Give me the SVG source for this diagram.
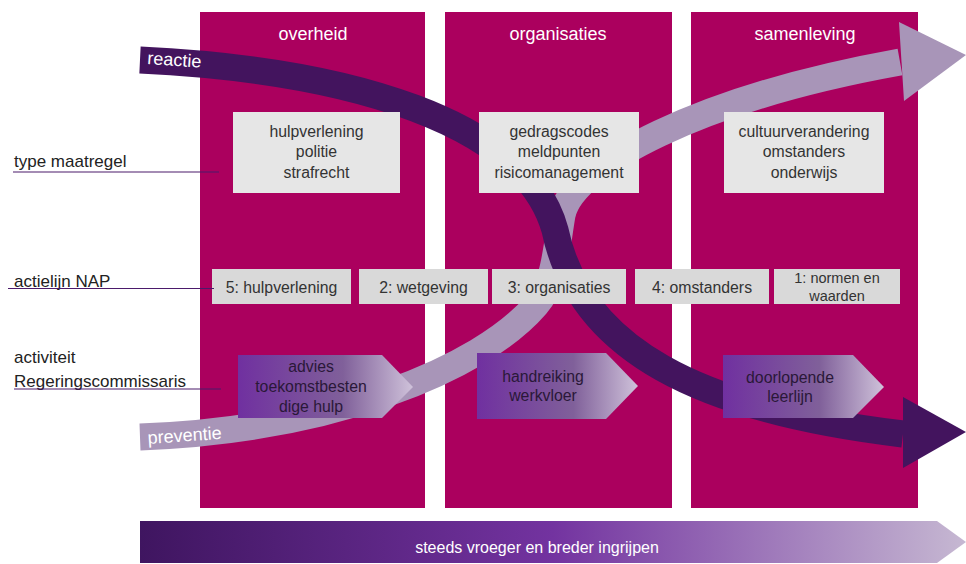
<svg xmlns="http://www.w3.org/2000/svg" width="966" height="564" viewBox="0 0 966 564">
<defs>
<linearGradient id="chev" x1="0" y1="0" x2="1" y2="0">
<stop offset="0" stop-color="#7030A0"/>
<stop offset="0.6" stop-color="#80609A"/>
<stop offset="1" stop-color="#CFC2DA"/>
</linearGradient>
<linearGradient id="bar" x1="0" y1="0" x2="1" y2="0">
<stop offset="0" stop-color="#3F1560"/>
<stop offset="0.5" stop-color="#7333A0"/>
<stop offset="1" stop-color="#C6B8D2"/>
</linearGradient>
<style>
.col{fill:#AB005E}
.hdr{font-family:"Liberation Sans",Arial,sans-serif;font-size:18px;fill:#fff;text-anchor:middle}
.box{fill:#E6E6E6}
.nap{fill:#D9D9D9}
.bt{font-family:"Liberation Sans",Arial,sans-serif;font-size:15.8px;fill:#333;text-anchor:middle}
.ct{font-family:"Liberation Sans",Arial,sans-serif;font-size:15.8px;fill:#2A1838;text-anchor:middle}
.lbl{font-family:"Liberation Sans",Arial,sans-serif;font-size:17px;fill:#222}
.ln{stroke:#4B1A6B;stroke-width:1.2;fill:none}
.band{fill:none;stroke-width:27;stroke-linecap:butt}
.bl{font-family:"Liberation Sans",Arial,sans-serif;font-size:18px;fill:#fff}
</style>
</defs>
<g id="columns">
<rect id="col-overheid" class="col" x="200" y="12" width="225" height="496"/>
<rect id="col-organisaties" class="col" x="445" y="12" width="227" height="496"/>
<rect id="col-samenleving" class="col" x="691" y="12" width="227" height="496"/>
<text class="hdr" x="313" y="40">overheid</text>
<text class="hdr" x="558" y="40">organisaties</text>
<text class="hdr" x="805" y="40">samenleving</text>
</g>
<g id="connectors">
<g id="preventie">
<path class="band" stroke="#A895B8" d="M140,437 C330,430 480,370 536,305 C555,283 556,250 562,215 C572,165 700,98 900,62"/>
<polygon fill="#A895B8" points="899,22 966,55 904,101"/>
<text class="bl" x="148" y="444" transform="rotate(-4 148 444)">preventie</text>
</g>
<g id="reactie">
<path class="band" stroke="#43145E" d="M140,60 C350,70 525,122 555,230 C580,350 700,410 903,434"/>
<polygon fill="#43145E" points="903,397 966,432 903,468"/>
<text class="bl" x="147" y="64" transform="rotate(4 147 64)">reactie</text>
</g>
</g>
<g id="maatregelen">
<g id="m-overheid"><rect class="box" x="233" y="112" width="167" height="81"/>
<text class="bt" x="316.5" y="137">hulpverlening</text><text class="bt" x="316.5" y="157">politie</text><text class="bt" x="316.5" y="178">strafrecht</text></g>
<g id="m-organisaties"><rect class="box" x="479" y="112" width="160" height="81"/>
<text class="bt" x="559" y="137">gedragscodes</text><text class="bt" x="559" y="157">meldpunten</text><text class="bt" x="559" y="178">risicomanagement</text></g>
<g id="m-samenleving"><rect class="box" x="724" y="112" width="160" height="81"/>
<text class="bt" x="804" y="137">cultuurverandering</text><text class="bt" x="804" y="157">omstanders</text><text class="bt" x="804" y="178">onderwijs</text></g>
</g>
<g id="nap">
<g id="nap5"><rect class="nap" x="212" y="269" width="139" height="35"/><text class="bt" x="281.5" y="293">5: hulpverlening</text></g>
<g id="nap2"><rect class="nap" x="359" y="269" width="129" height="35"/><text class="bt" x="423.5" y="293">2: wetgeving</text></g>
<g id="nap3"><rect class="nap" x="492" y="269" width="134" height="35"/><text class="bt" x="559" y="293">3: organisaties</text></g>
<g id="nap4"><rect class="nap" x="635" y="269" width="134" height="35"/><text class="bt" x="702" y="293">4: omstanders</text></g>
<g id="nap1"><rect class="nap" x="774" y="269" width="126" height="35"/><text class="bt" x="837" y="283" style="font-size:14.5px">1: normen en</text><text class="bt" x="837" y="301" style="font-size:14.5px">waarden</text></g>
</g>
<g id="activiteiten">
<g id="a1"><polygon fill="url(#chev)" points="238,355 382,355 413,387 382,418 238,418"/>
<text class="ct" x="311" y="372">advies</text><text class="ct" x="311" y="392">toekomstbesten</text><text class="ct" x="311" y="412">dige hulp</text></g>
<g id="a2"><polygon fill="url(#chev)" points="477,353 606,353 638,386 606,419 477,419"/>
<text class="ct" x="543" y="382">handreiking</text><text class="ct" x="543" y="401">werkvloer</text></g>
<g id="a3"><polygon fill="url(#chev)" points="723,355 853,355 884,387 853,418 723,418"/>
<text class="ct" x="790" y="383">doorlopende</text><text class="ct" x="790" y="402">leerlijn</text></g>
</g>
<g id="labels">
<g id="l-type"><text class="lbl" x="14" y="167">type maatregel</text><line class="ln" x1="13" y1="172" x2="219" y2="172"/></g>
<g id="l-nap"><text class="lbl" x="14" y="287">actielijn NAP</text><line class="ln" x1="8" y1="288.5" x2="214" y2="288.5"/></g>
<g id="l-act"><text class="lbl" x="14" y="363">activiteit</text><text class="lbl" x="14" y="387">Regeringscommissaris</text><line class="ln" x1="14" y1="389" x2="221" y2="389"/></g>
</g>
<g id="bottom-arrow">
<polygon fill="url(#bar)" points="140,521 937,521 966,542 937,563 140,563"/>
<text x="537" y="553" style="font-family:'Liberation Sans',Arial,sans-serif;font-size:16px;fill:#fff;text-anchor:middle">steeds vroeger en breder ingrijpen</text>
</g>
</svg>
